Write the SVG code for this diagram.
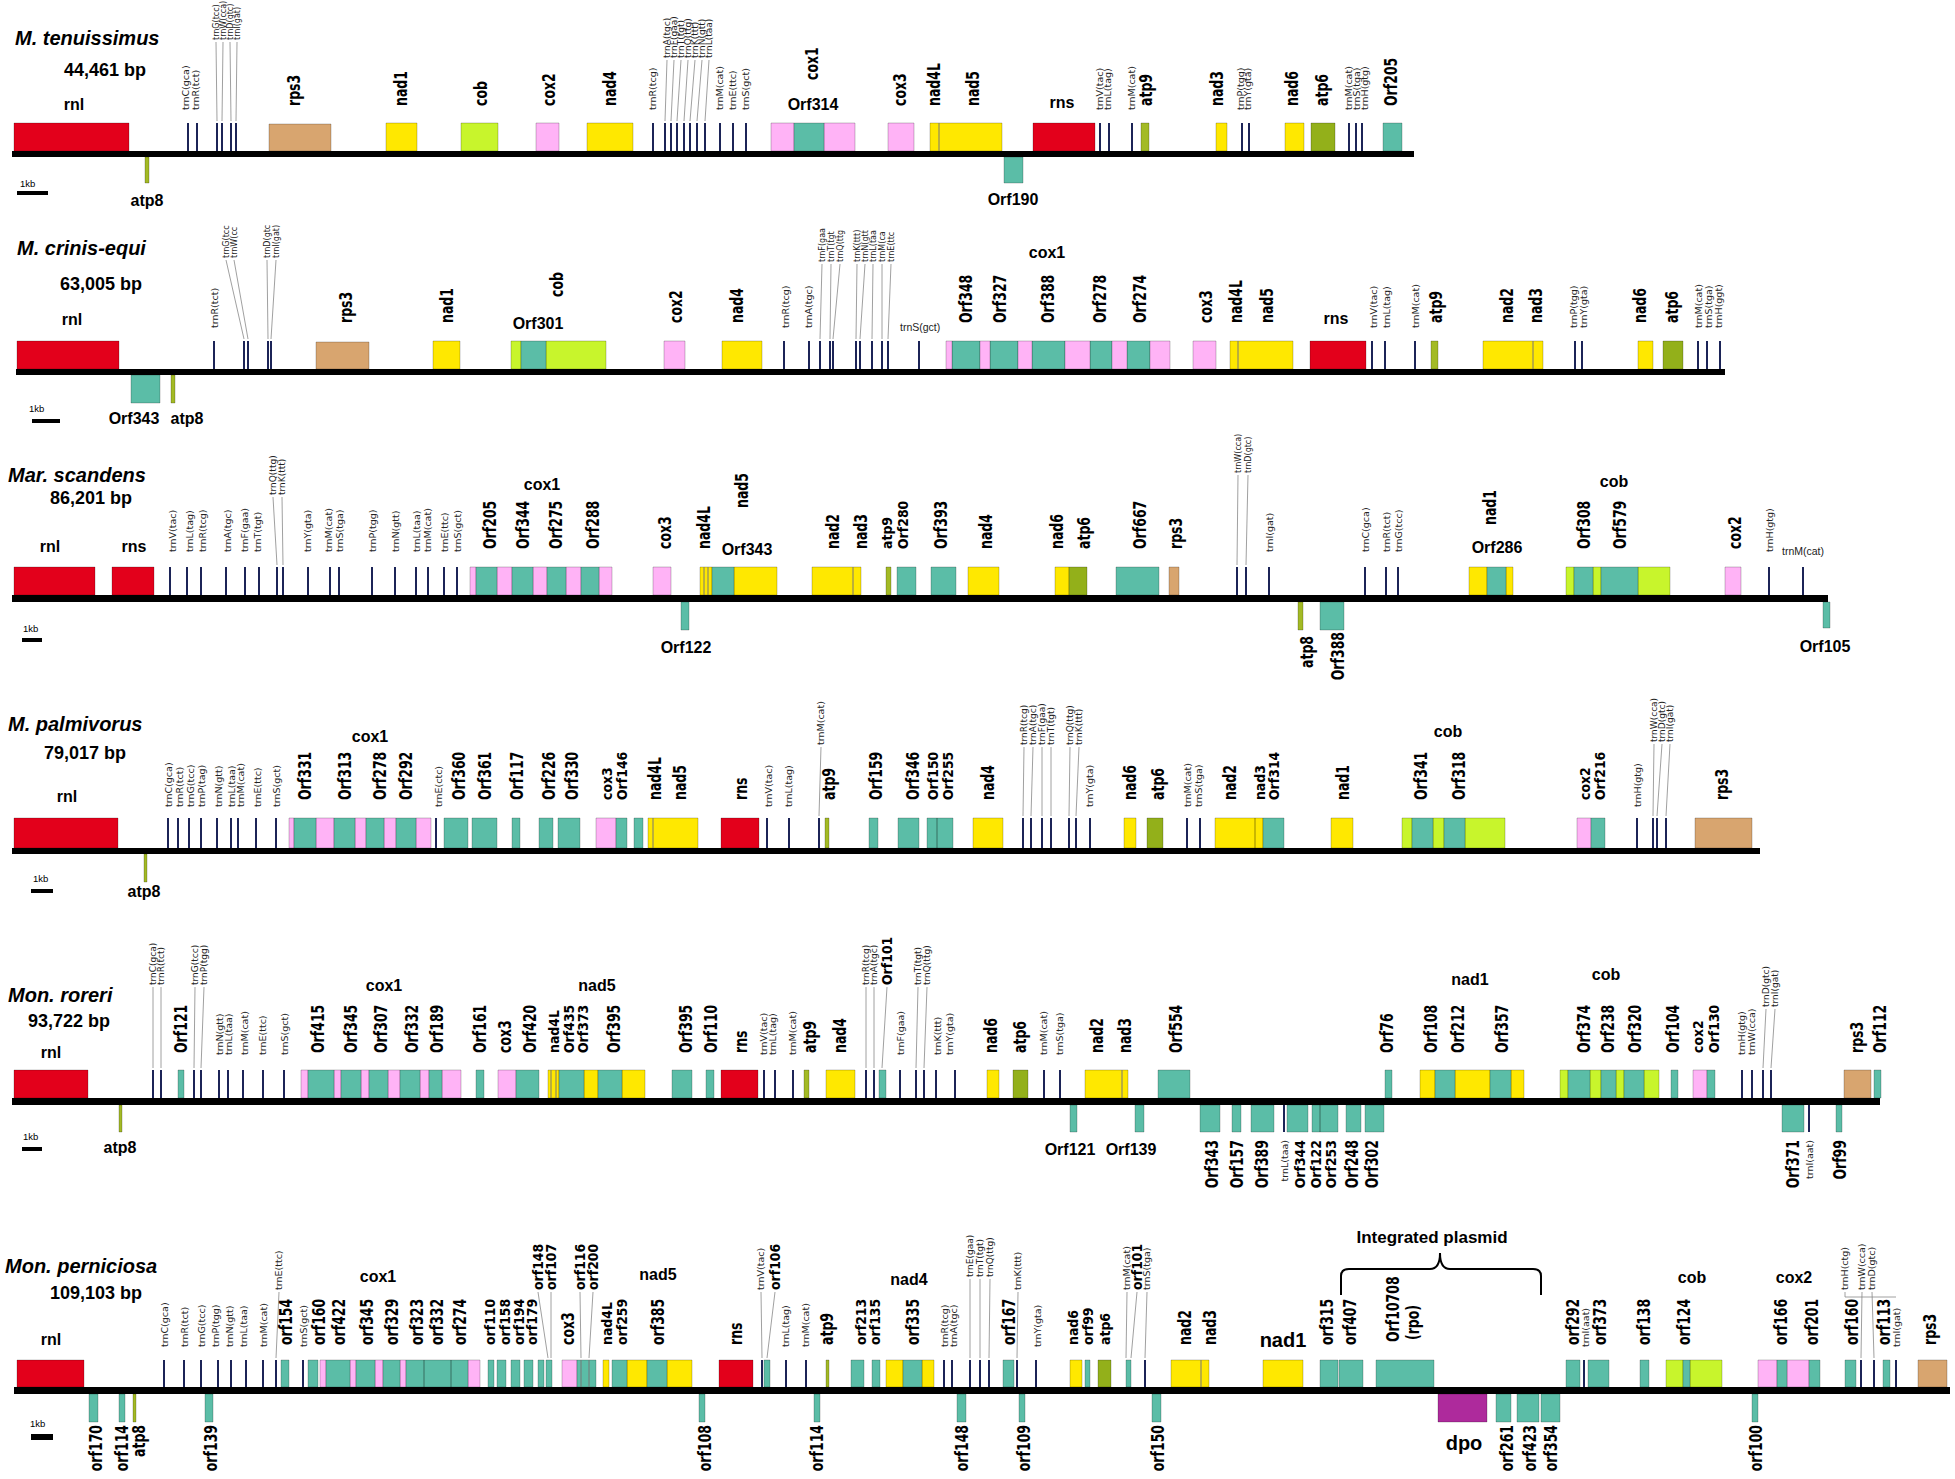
<svg xmlns="http://www.w3.org/2000/svg" width="1955" height="1479" viewBox="0 0 1955 1479">
<style>
.R{fill:#e3001b}.Y{fill:#ffe800}.L{fill:#c8f52c}.P{fill:#ffb3f6}.T{fill:#5bbda7}.N{fill:#d8a56f}.A{fill:#a3ba25}.O{fill:#93b01a}.M{fill:#ae2a9c}
.R,.Y,.L,.P,.T,.N,.A,.O,.M{stroke:#000;stroke-opacity:.28;stroke-width:.8}
.t{stroke:#1c2457;stroke-width:2;fill:none}
.f{stroke:#888;stroke-width:.8;fill:none}
.d{stroke:#777;stroke-width:1;fill:none}
.br{stroke:#000;stroke-width:2;fill:none}
.g{font:bold 12.5px "DejaVu Sans",Verdana,sans-serif;transform-box:fill-box;transform-origin:center;transform:scale(1,1.4)}
.g.c{transform:scale(1,1.1)}
.s{font:9.5px "DejaVu Sans",Verdana,sans-serif;fill:#222}
.s9{font:9px "DejaVu Sans",Verdana,sans-serif;fill:#222}
.s7{font:8px "DejaVu Sans",Verdana,sans-serif;fill:#222}
.e{text-anchor:end}
.h{font:bold 16px "Liberation Sans",Arial,sans-serif;text-anchor:middle}
.hl{font:bold 20px "Liberation Sans",Arial,sans-serif;text-anchor:middle}
.ip{font:bold 17px "Liberation Sans",Arial,sans-serif;text-anchor:middle}
.ti{font:italic bold 20px "Liberation Sans",Arial,sans-serif}
.bp{font:bold 18px "Liberation Sans",Arial,sans-serif}
.k{font:10.5px "Liberation Sans",Arial,sans-serif;fill:#222}
.kb{font:9.5px "Liberation Sans",Arial,sans-serif}
</style>
<rect width="1955" height="1479" fill="#fff"/>

<!-- Track 1 -->
<g id="m-tenuissimus" transform="translate(0,123)">
<rect x="12" y="28" width="1402" height="6"/>
<path class="R" d="M14 0h115v28h-115zM1033 0h62v28h-62z"/>
<path class="N" d="M269 1h62v27h-62z"/>
<path class="Y" d="M386 0h31v28h-31zM587 0h46v28h-46zM930 0h72v28h-72zM1216 0h11v28h-11zM1285 0h19v28h-19z"/>
<path class="L" d="M461 0h37v28h-37z"/>
<path class="P" d="M536 0h23v28h-23zM771 0h23v28h-23zM824 0h31v28h-31zM888 0h26v28h-26z"/>
<path class="T" d="M794 0h30v28h-30zM1383 0h19v28h-19zM1004 34h19v26h-19z"/>
<path class="A" d="M1141 0h8v28h-8zM145 34h4v26h-4z"/>
<path class="O" d="M1311 0h24v28h-24z"/>
<path class="d" d="M939 0V28"/>
<path class="t" d="M188 0V28M197 0V28M217 0V28M222 0V28M231 0V28M236 0V28M653 0V28M665 0V28M671 0V28M677 0V28M684 0V28M690 0V28M697 0V28M705 0V28M720 0V28M733 0V28M746 0V28M1100 0V28M1109 0V28M1132 0V28M1242 0V28M1249 0V28M1349 0V28M1356 0V28M1362 0V28"/>
<g id="t1-connectors"><path class="f" d="M216 -81L217 -2M223 -81L222 -2M230 -81L231 -2M237 -81L236 -2M667 -63L665 -2M674 -63L671 -2M681 -63L677 -2M688 -63L684 -2M695 -63L690 -2M702 -63L697 -2M709 -63L705 -2"/></g>
<text class="ti" x="15" y="-78">M. tenuissimus</text>
<text class="bp" x="64" y="-47">44,461 bp</text>
<text class="h" x="74" y="-13">rnl</text>
<text class="h" x="813" y="-13">Orf314</text>
<text class="h" x="1062" y="-15">rns</text>
<text class="h" x="147" y="83">atp8</text>
<text class="h" x="1013" y="82">Orf190</text>
<text class="kb" x="20" y="64">1kb</text>
<rect x="17" y="68" width="31" height="4"/>
<g transform="rotate(-90)">
<text class="g" x="17" y="298.5">rps3</text>
<text class="g" x="17" y="405.5">nad1</text>
<text class="g" x="17" y="485.5">cob</text>
<text class="g" x="17" y="553.5">cox2</text>
<text class="g" x="17" y="614.5">nad4</text>
<text class="g" x="43" y="816.5">cox1</text>
<text class="g" x="17" y="904.5">cox3</text>
<text class="g" x="17" y="938.5">nad4L</text>
<text class="g" x="17" y="977.5">nad5</text>
<text class="g" x="17" y="1150.5">atp9</text>
<text class="g" x="17" y="1221.5">nad3</text>
<text class="g" x="17" y="1296.5">nad6</text>
<text class="g" x="17" y="1326.5">atp6</text>
<text class="g" x="17" y="1395.5">Orf205</text>
<text class="s" x="13" y="189.4">trnC(gca)</text>
<text class="s" x="13" y="199.4">trnR(tct)</text>
<text class="s7" x="83" y="218.8">trnG(tcc)</text>
<text class="s7" x="83" y="225.8">trnW(cca)</text>
<text class="s7" x="83" y="232.8">trnD(gtc)</text>
<text class="s7" x="83" y="239.8">trnI(gat)</text>
<text class="s" x="13" y="656.4">trnR(tcg)</text>
<text class="s9" x="65" y="670.2">trnA(tgc)</text>
<text class="s9" x="65" y="677.2">trnF(gaa)</text>
<text class="s9" x="65" y="684.2">trnT(tgt)</text>
<text class="s9" x="65" y="691.2">trnQ(ttg)</text>
<text class="s9" x="65" y="698.2">trnK(ttt)</text>
<text class="s9" x="65" y="705.2">trnN(gtt)</text>
<text class="s9" x="65" y="712.2">trnL(taa)</text>
<text class="s" x="13" y="723.4">trnM(cat)</text>
<text class="s" x="13" y="736.4">trnE(ttc)</text>
<text class="s" x="13" y="749.4">trnS(gct)</text>
<text class="s" x="13" y="1103.4">trnV(tac)</text>
<text class="s" x="13" y="1111.4">trnL(tag)</text>
<text class="s" x="13" y="1135.4">trnM(cat)</text>
<text class="s" x="13" y="1244.4">trnP(tgg)</text>
<text class="s" x="13" y="1251.4">trnY(gta)</text>
<text class="s" x="13" y="1352.4">trnM(cat)</text>
<text class="s" x="13" y="1360.4">trnS(tga)</text>
<text class="s" x="13" y="1368.4">trnH(gtg)</text>
</g>
</g>

<!-- Track 2 -->
<g id="m-crinis-equi" transform="translate(0,341)">
<rect x="16" y="28" width="1709" height="6"/>
<path class="R" d="M17 0h102v28h-102zM1310 0h56v28h-56z"/>
<path class="N" d="M316 1h53v27h-53z"/>
<path class="Y" d="M433 0h27v28h-27zM722 0h40v28h-40zM1230 0h63v28h-63zM1483 0h60v28h-60zM1638 0h15v28h-15z"/>
<path class="L" d="M511 0h10v28h-10zM546 0h60v28h-60z"/>
<path class="T" d="M521 0h25v28h-25zM952 0h28v28h-28zM990 0h28v28h-28zM1032 0h33v28h-33zM1090 0h22v28h-22zM1127 0h23v28h-23zM131 34h29v28h-29z"/>
<path class="P" d="M664 0h21v28h-21zM946 0h6v28h-6zM980 0h10v28h-10zM1018 0h14v28h-14zM1065 0h25v28h-25zM1112 0h15v28h-15zM1150 0h20v28h-20zM1193 0h23v28h-23z"/>
<path class="A" d="M1431 0h7v28h-7zM171 34h4v28h-4z"/>
<path class="O" d="M1663 0h20v28h-20z"/>
<path class="d" d="M1238 0V28M1533 0V28"/>
<path class="t" d="M214 0V28M244 0V28M248 0V28M268 0V28M271 0V28M784 0V28M809 0V28M820 0V28M830 0V28M833 0V28M856 0V28M860 0V28M872 0V28M882 0V28M888 0V28M919 0V28M1372 0V28M1385 0V28M1415 0V28M1575 0V28M1582 0V28M1698 0V28M1707 0V28M1720 0V28"/>
<g id="t2-connectors"><path class="f" d="M226 -81L244 -2M234 -81L248 -2M267 -81L268 -2M276 -81L271 -2M822 -77L820 -2M831 -77L830 -2M840 -77L833 -2M857 -77L856 -2M865 -77L860 -2M873 -77L872 -2M882 -77L882 -2M891 -77L888 -2"/></g>
<text class="ti" x="17" y="-86">M. crinis-equi</text>
<text class="bp" x="60" y="-51">63,005 bp</text>
<text class="h" x="72" y="-16">rnl</text>
<text class="h" x="538" y="-12">Orf301</text>
<text class="h" x="1047" y="-83">cox1</text>
<text class="h" x="1336" y="-17">rns</text>
<text class="k" x="900" y="-10">trnS(gct)</text>
<text class="h" x="134" y="83">Orf343</text>
<text class="h" x="187" y="83">atp8</text>
<text class="kb" x="29" y="71">1kb</text>
<rect x="32" y="78" width="28" height="4"/>
<g transform="rotate(-90)">
<text class="g" x="18" y="350.5">rps3</text>
<text class="g" x="18" y="451.5">nad1</text>
<text class="g" x="44" y="561.5">cob</text>
<text class="g" x="18" y="680.5">cox2</text>
<text class="g" x="18" y="741.5">nad4</text>
<text class="g" x="18" y="970.5">Orf348</text>
<text class="g" x="18" y="1004.5">Orf327</text>
<text class="g" x="18" y="1052.5">Orf388</text>
<text class="g" x="18" y="1104.5">Orf278</text>
<text class="g" x="18" y="1144.5">Orf274</text>
<text class="g" x="18" y="1210.5">cox3</text>
<text class="g" x="18" y="1240.5">nad4L</text>
<text class="g" x="18" y="1271.5">nad5</text>
<text class="g" x="18" y="1440.5">atp9</text>
<text class="g" x="18" y="1511.5">nad2</text>
<text class="g" x="18" y="1540.5">nad3</text>
<text class="g" x="18" y="1644.5">nad6</text>
<text class="g" x="18" y="1676.5">atp6</text>
<text class="s" x="13" y="218.4">trnR(tct)</text>
<text class="s" x="13" y="789.4">trnR(tcg)</text>
<text class="s" x="13" y="812.4">trnA(tgc)</text>
<text class="s" x="13" y="1377.4">trnV(tac)</text>
<text class="s" x="13" y="1390.4">trnL(tag)</text>
<text class="s" x="13" y="1419.4">trnM(cat)</text>
<text class="s" x="13" y="1577.4">trnP(tgg)</text>
<text class="s" x="13" y="1587.4">trnY(gta)</text>
<text class="s" x="13" y="1702.4">trnM(cat)</text>
<text class="s" x="13" y="1712.4">trnS(tga)</text>
<text class="s" x="13" y="1722.4">trnH(ggt)</text>
<text class="s7" x="83" y="228.8">trnG(tcc</text>
<text class="s7" x="83" y="236.8">trnW(cc</text>
<text class="s7" x="83" y="269.8">trnD(gtc</text>
<text class="s7" x="83" y="278.8">trnI(gat)</text>
<text class="s7" x="79" y="824.8">trnF(gaa</text>
<text class="s7" x="79" y="833.8">trnT(tgt</text>
<text class="s7" x="79" y="842.8">trnQ(ttg</text>
<text class="s7" x="79" y="859.8">trnK(ttt)</text>
<text class="s7" x="79" y="867.8">trnN(gtt</text>
<text class="s7" x="79" y="875.8">trnL(taa</text>
<text class="s7" x="79" y="884.8">trnM(ca</text>
<text class="s7" x="79" y="893.8">trnE(ttc</text>
</g>
</g>

<!-- Track 3 -->
<g id="mar-scandens" transform="translate(0,567)">
<rect x="12" y="28" width="1816" height="7"/>
<path class="R" d="M14 0h81v28h-81zM112 0h42v28h-42z"/>
<path class="Y" d="M700 0h12v28h-12zM734 0h43v28h-43zM812 0h49v28h-49zM968 0h31v28h-31zM1055 0h14v28h-14zM1469 0h18v28h-18zM1506 0h7v28h-7z"/>
<path class="L" d="M1566 0h8v28h-8zM1593 0h8v28h-8zM1638 0h32v28h-32z"/>
<path class="P" d="M470 0h6v28h-6zM497 0h15v28h-15zM533 0h14v28h-14zM566 0h15v28h-15zM599 0h13v28h-13zM653 0h18v28h-18zM1725 0h16v28h-16z"/>
<path class="T" d="M476 0h21v28h-21zM512 0h21v28h-21zM547 0h19v28h-19zM581 0h18v28h-18zM712 0h22v28h-22zM897 0h19v28h-19zM931 0h25v28h-25zM1116 0h43v28h-43zM1487 0h19v28h-19zM1574 0h19v28h-19zM1601 0h37v28h-37zM681 35h8v28h-8zM1320 35h24v28h-24zM1823 35h7v26h-7z"/>
<path class="N" d="M1169 0h10v28h-10z"/>
<path class="A" d="M886 0h5v28h-5zM1298 35h5v28h-5z"/>
<path class="O" d="M1069 0h18v28h-18z"/>
<path class="d" d="M704 0V28M708 0V28M853 0V28"/>
<path class="t" d="M170 0V28M187 0V28M201 0V28M226 0V28M245 0V28M259 0V28M277 0V28M283 0V28M308 0V28M330 0V28M339 0V28M372 0V28M395 0V28M416 0V28M428 0V28M444 0V28M457 0V28M1237 0V28M1246 0V28M1269 0V28M1365 0V28M1386 0V28M1398 0V28M1769 0V28M1803 0V28"/>
<g id="t3-connectors"><path class="f" d="M273 -70L277 -2M282 -70L283 -2M1238 -92L1237 -2M1248 -92L1246 -2"/></g>
<text class="ti" x="8" y="-85">Mar. scandens</text>
<text class="bp" x="50" y="-63">86,201 bp</text>
<text class="h" x="50" y="-15">rnl</text>
<text class="h" x="134" y="-15">rns</text>
<text class="h" x="542" y="-77">cox1</text>
<text class="h" x="747" y="-12">Orf343</text>
<text class="h" x="1497" y="-14">Orf286</text>
<text class="h" x="1614" y="-80">cob</text>
<text class="k" x="1782" y="-12">trnM(cat)</text>
<text class="h" x="686" y="86">Orf122</text>
<text class="h" x="1825" y="85">Orf105</text>
<text class="kb" x="23" y="65">1kb</text>
<rect x="22" y="71" width="20" height="4"/>
<g transform="rotate(-90)">
<text class="g" x="18" y="494.5">Orf205</text>
<text class="g" x="18" y="527.5">Orf344</text>
<text class="g" x="18" y="560.5">Orf275</text>
<text class="g" x="18" y="597.5">Orf288</text>
<text class="g" x="18" y="669.5">cox3</text>
<text class="g" x="18" y="708.5">nad4L</text>
<text class="g" x="59" y="746.5">nad5</text>
<text class="g" x="18" y="837.5">nad2</text>
<text class="g" x="18" y="865.5">nad3</text>
<text class="g c" x="18" y="891.5">atp9</text>
<text class="g c" x="18" y="907.5">Orf280</text>
<text class="g" x="18" y="945.5">Orf393</text>
<text class="g" x="18" y="990.5">nad4</text>
<text class="g" x="18" y="1061.5">nad6</text>
<text class="g" x="18" y="1088.5">atp6</text>
<text class="g" x="18" y="1144.5">Orf667</text>
<text class="g" x="18" y="1180.5">rps3</text>
<text class="g" x="42" y="1494.5">nad1</text>
<text class="g" x="18" y="1588.5">Orf308</text>
<text class="g" x="18" y="1624.5">Orf579</text>
<text class="g" x="18" y="1739.5">cox2</text>
<text class="s" x="15" y="176.4">trnV(tac)</text>
<text class="s" x="15" y="193.4">trnL(tag)</text>
<text class="s" x="15" y="206.4">trnR(tcg)</text>
<text class="s" x="15" y="231.4">trnA(tgc)</text>
<text class="s" x="15" y="248.4">trnF(gaa)</text>
<text class="s" x="15" y="261.4">trnT(tgt)</text>
<text class="s" x="15" y="311.4">trnY(gta)</text>
<text class="s" x="15" y="332.4">trnM(cat)</text>
<text class="s" x="15" y="343.4">trnS(tga)</text>
<text class="s" x="15" y="376.4">trnP(tgg)</text>
<text class="s" x="15" y="399.4">trnN(gtt)</text>
<text class="s" x="15" y="420.4">trnL(taa)</text>
<text class="s" x="15" y="431.4">trnM(cat)</text>
<text class="s" x="15" y="448.4">trnE(ttc)</text>
<text class="s" x="15" y="461.4">trnS(gct)</text>
<text class="s" x="15" y="1273.4">trnI(gat)</text>
<text class="s" x="15" y="1369.4">trnC(gca)</text>
<text class="s" x="15" y="1390.4">trnR(tct)</text>
<text class="s" x="15" y="1402.4">trnG(tcc)</text>
<text class="s" x="15" y="1773.4">trnH(gtg)</text>
<text class="s9" x="72" y="276.2">trnQ(ttg)</text>
<text class="s9" x="72" y="285.2">trnK(ttt)</text>
<text class="s7" x="94" y="1240.8">trnW(cca)</text>
<text class="s7" x="94" y="1250.8">trnD(gtc)</text>
<text class="g e" x="-69" y="1311.5">atp8</text>
<text class="g e" x="-65" y="1342.5">Orf388</text>
</g>
</g>

<!-- Track 4 -->
<g id="m-palmivorus" transform="translate(0,818)">
<rect x="12" y="30" width="1748" height="6"/>
<path class="R" d="M14 0h104v30h-104zM721 0h38v30h-38z"/>
<path class="Y" d="M648 0h50v30h-50zM973 0h30v30h-30zM1124 0h12v30h-12zM1215 0h40v30h-40zM1255 0h8v30h-8zM1331 0h22v30h-22z"/>
<path class="L" d="M1402 0h10v30h-10zM1433 0h11v30h-11zM1465 0h40v30h-40z"/>
<path class="P" d="M289 0h5v30h-5zM316 0h18v30h-18zM355 0h11v30h-11zM384 0h12v30h-12zM416 0h15v30h-15zM596 0h20v30h-20zM1577 0h14v30h-14z"/>
<path class="T" d="M294 0h22v30h-22zM334 0h21v30h-21zM366 0h18v30h-18zM396 0h20v30h-20zM444 0h24v30h-24zM472 0h25v30h-25zM512 0h8v30h-8zM539 0h14v30h-14zM558 0h22v30h-22zM616 0h11v30h-11zM634 0h9v30h-9zM869 0h9v30h-9zM898 0h21v30h-21zM927 0h10v30h-10zM937 0h16v30h-16zM1263 0h21v30h-21zM1412 0h21v30h-21zM1444 0h21v30h-21zM1591 0h14v30h-14z"/>
<path class="N" d="M1695 0h57v30h-57z"/>
<path class="A" d="M825 0h4v30h-4zM144 36h3v28h-3z"/>
<path class="O" d="M1147 0h16v30h-16z"/>
<path class="d" d="M653 0V30"/>
<path class="t" d="M168 0V30M178 0V30M189 0V30M201 0V30M217 0V30M231 0V30M238 0V30M256 0V30M276 0V30M436 0V30M767 0V30M789 0V30M819 0V30M1023 0V30M1031 0V30M1042 0V30M1051 0V30M1069 0V30M1076 0V30M1090 0V30M1187 0V30M1200 0V30M1637 0V30M1653 0V30M1657 0V30M1666 0V30"/>
<g id="t4-connectors"><path class="f" d="M821 -71L819 -2M1024 -71L1023 -2M1033 -71L1031 -2M1042 -71L1042 -2M1051 -71L1051 -2M1070 -71L1069 -2M1079 -71L1076 -2M1654 -74L1653 -2M1662 -74L1657 -2M1670 -74L1666 -2"/></g>
<text class="ti" x="8" y="-87">M. palmivorus</text>
<text class="bp" x="44" y="-59">79,017 bp</text>
<text class="h" x="67" y="-16">rnl</text>
<text class="h" x="370" y="-76">cox1</text>
<text class="h" x="1448" y="-81">cob</text>
<text class="h" x="144" y="79">atp8</text>
<text class="kb" x="33" y="64">1kb</text>
<rect x="31" y="71" width="22" height="4"/>
<g transform="rotate(-90)">
<text class="g" x="18" y="309.5">Orf331</text>
<text class="g" x="18" y="349.5">Orf313</text>
<text class="g" x="18" y="384.5">Orf278</text>
<text class="g" x="18" y="410.5">Orf292</text>
<text class="g" x="18" y="463.5">Orf360</text>
<text class="g" x="18" y="489.5">Orf361</text>
<text class="g" x="18" y="521.5">Orf117</text>
<text class="g" x="18" y="553.5">Orf226</text>
<text class="g" x="18" y="576.5">Orf330</text>
<text class="g c" x="18" y="611.5">cox3</text>
<text class="g c" x="18" y="626.5">Orf146</text>
<text class="g" x="18" y="659.5">nad4L</text>
<text class="g" x="18" y="684.5">nad5</text>
<text class="g" x="18" y="745.5">rns</text>
<text class="g" x="18" y="833.5">atp9</text>
<text class="g" x="18" y="880.5">Orf159</text>
<text class="g" x="18" y="917.5">Orf346</text>
<text class="g c" x="18" y="937.5">Orf150</text>
<text class="g c" x="18" y="952.5">Orf255</text>
<text class="g" x="18" y="992.5">nad4</text>
<text class="g" x="18" y="1134.5">nad6</text>
<text class="g" x="18" y="1162.5">atp6</text>
<text class="g" x="18" y="1234.5">nad2</text>
<text class="g c" x="18" y="1264.5">nad3</text>
<text class="g c" x="18" y="1278.5">Orf314</text>
<text class="g" x="18" y="1347.5">nad1</text>
<text class="g" x="18" y="1425.5">Orf341</text>
<text class="g" x="18" y="1463.5">Orf318</text>
<text class="g c" x="18" y="1589.5">cox2</text>
<text class="g c" x="18" y="1604.5">Orf216</text>
<text class="g" x="18" y="1726.5">rps3</text>
<text class="s" x="11" y="172.4">trnC(gca)</text>
<text class="s" x="11" y="183.4">trnR(tct)</text>
<text class="s" x="11" y="194.4">trnG(tcc)</text>
<text class="s" x="11" y="205.4">trnP(tag)</text>
<text class="s" x="11" y="222.4">trnN(gtt)</text>
<text class="s" x="11" y="235.4">trnL(taa)</text>
<text class="s" x="11" y="244.4">trnM(cat)</text>
<text class="s" x="11" y="261.4">trnE(ttc)</text>
<text class="s" x="11" y="280.4">trnS(gct)</text>
<text class="s" x="11" y="442.4">trnE(ctc)</text>
<text class="s" x="11" y="772.4">trnV(tac)</text>
<text class="s" x="11" y="792.4">trnL(tag)</text>
<text class="s" x="73" y="824.4">trnM(cat)</text>
<text class="s9" x="73" y="1027.2">trnR(tcg)</text>
<text class="s9" x="73" y="1036.2">trnA(tgc)</text>
<text class="s9" x="73" y="1045.2">trnF(gaa)</text>
<text class="s9" x="73" y="1054.2">trnT(tgt)</text>
<text class="s9" x="73" y="1073.2">trnQ(ttg)</text>
<text class="s9" x="73" y="1082.2">trnK(ttt)</text>
<text class="s" x="11" y="1093.4">trnY(gta)</text>
<text class="s" x="11" y="1191.4">trnM(cat)</text>
<text class="s" x="11" y="1202.4">trnS(tga)</text>
<text class="s" x="11" y="1641.4">trnH(gtg)</text>
<text class="s9" x="76" y="1657.2">trnW(cca)</text>
<text class="s9" x="76" y="1665.2">trnD(gtc)</text>
<text class="s9" x="76" y="1673.2">trnI(gat)</text>
</g>
</g>

<!-- Track 5 -->
<g id="mon-roreri" transform="translate(0,1070)">
<rect x="12" y="28" width="1868" height="7"/>
<path class="R" d="M14 0h74v28h-74zM721 0h37v28h-37z"/>
<path class="Y" d="M548 0h11v28h-11zM584 0h14v28h-14zM622 0h23v28h-23zM826 0h29v28h-29zM987 0h12v28h-12zM1085 0h43v28h-43zM1420 0h15v28h-15zM1455 0h35v28h-35zM1511 0h13v28h-13z"/>
<path class="L" d="M1560 0h8v28h-8zM1590 0h11v28h-11zM1616 0h8v28h-8zM1644 0h15v28h-15z"/>
<path class="P" d="M301 0h7v28h-7zM334 0h7v28h-7zM361 0h8v28h-8zM388 0h12v28h-12zM420 0h9v28h-9zM442 0h19v28h-19zM498 0h18v28h-18zM1693 0h14v28h-14z"/>
<path class="T" d="M178 0h6v28h-6zM308 0h26v28h-26zM341 0h20v28h-20zM369 0h19v28h-19zM400 0h20v28h-20zM429 0h13v28h-13zM476 0h8v28h-8zM516 0h23v28h-23zM559 0h25v28h-25zM598 0h24v28h-24zM672 0h20v28h-20zM706 0h8v28h-8zM879 0h7v28h-7zM1158 0h32v28h-32zM1385 0h7v28h-7zM1435 0h20v28h-20zM1490 0h21v28h-21zM1568 0h22v28h-22zM1601 0h15v28h-15zM1624 0h20v28h-20zM1671 0h7v28h-7zM1707 0h8v28h-8zM1874 0h7v28h-7z"/>
<path class="T" d="M1070 35h7v27h-7zM1135 35h9v27h-9zM1200 35h20v27h-20zM1232 35h9v27h-9zM1251 35h23v27h-23zM1287 35h21v27h-21zM1312 35h8v27h-8zM1320 35h18v27h-18zM1346 35h15v27h-15zM1365 35h19v27h-19zM1782 35h22v27h-22zM1836 35h6v27h-6z"/>
<path class="N" d="M1844 0h27v28h-27z"/>
<path class="A" d="M804 0h5v28h-5zM119 35h3v27h-3z"/>
<path class="O" d="M1013 0h15v28h-15z"/>
<path class="d" d="M551 0V28M556 0V28M1122 0V28"/>
<path class="t" d="M153 0V28M161 0V28M194 0V28M201 0V28M219 0V28M228 0V28M243 0V28M263 0V28M284 0V28M764 0V28M775 0V28M793 0V28M866 0V28M874 0V28M900 0V28M916 0V28M924 0V28M936 0V28M955 0V28M1044 0V28M1060 0V28M1742 0V28M1752 0V28M1763 0V28M1771 0V28M1284 35V62M1809 35V62"/>
<g id="t5-connectors"><path class="f" d="M153 -83L153 -2M161 -83L161 -2M195 -83L194 -2M204 -83L201 -2M866 -83L866 -2M874 -83L874 -2M887 -83L882 -2M918 -83L916 -2M927 -83L924 -2M1766 -61L1763 -2M1775 -61L1771 -2"/></g>
<text class="ti" x="8" y="-68">Mon. roreri</text>
<text class="bp" x="28" y="-43">93,722 bp</text>
<text class="h" x="51" y="-12">rnl</text>
<text class="h" x="384" y="-79">cox1</text>
<text class="h" x="597" y="-79">nad5</text>
<text class="h" x="1470" y="-85">nad1</text>
<text class="h" x="1606" y="-90">cob</text>
<text class="h" x="120" y="83">atp8</text>
<text class="h" x="1070" y="85">Orf121</text>
<text class="h" x="1131" y="85">Orf139</text>
<text class="kb" x="23" y="70">1kb</text>
<rect x="22" y="77" width="20" height="4"/>
<g transform="rotate(-90)">
<text class="g" x="17" y="185.5">Orf121</text>
<text class="g" x="17" y="322.5">Orf415</text>
<text class="g" x="17" y="355.5">Orf345</text>
<text class="g" x="17" y="385.5">Orf307</text>
<text class="g" x="17" y="416.5">Orf332</text>
<text class="g" x="17" y="441.5">Orf189</text>
<text class="g" x="17" y="484.5">Orf161</text>
<text class="g" x="17" y="509.5">cox3</text>
<text class="g" x="17" y="534.5">Orf420</text>
<text class="g c" x="17" y="558.5">nad4L</text>
<text class="g c" x="17" y="573.5">Orf435</text>
<text class="g c" x="17" y="587.5">Orf373</text>
<text class="g" x="17" y="618.5">Orf395</text>
<text class="g" x="17" y="690.5">Orf395</text>
<text class="g" x="17" y="715.5">Orf110</text>
<text class="g" x="17" y="745.5">rns</text>
<text class="g" x="17" y="814.5">atp9</text>
<text class="g" x="17" y="844.5">nad4</text>
<text class="g c" x="85" y="891.5">Orf101</text>
<text class="g" x="17" y="995.5">nad6</text>
<text class="g" x="17" y="1024.5">atp6</text>
<text class="g" x="17" y="1101.5">nad2</text>
<text class="g" x="17" y="1129.5">nad3</text>
<text class="g" x="17" y="1180.5">Orf554</text>
<text class="g" x="17" y="1391.5">Orf76</text>
<text class="g" x="17" y="1435.5">Orf108</text>
<text class="g" x="17" y="1462.5">Orf212</text>
<text class="g" x="17" y="1506.5">Orf357</text>
<text class="g" x="17" y="1588.5">Orf374</text>
<text class="g" x="17" y="1612.5">Orf238</text>
<text class="g" x="17" y="1639.5">Orf320</text>
<text class="g" x="17" y="1677.5">Orf104</text>
<text class="g c" x="17" y="1702.5">cox2</text>
<text class="g c" x="17" y="1718.5">Orf130</text>
<text class="g" x="17" y="1861.5">rps3</text>
<text class="g" x="17" y="1884.5">Orf112</text>
<text class="s9" x="85" y="156.2">trnC(gca)</text>
<text class="s9" x="85" y="164.2">trnR(tct)</text>
<text class="s9" x="85" y="198.2">trnG(tcc)</text>
<text class="s9" x="85" y="207.2">trnP(tgg)</text>
<text class="s" x="15" y="223.4">trnN(gtt)</text>
<text class="s" x="15" y="232.4">trnL(taa)</text>
<text class="s" x="15" y="248.4">trnM(cat)</text>
<text class="s" x="15" y="266.4">trnE(ttc)</text>
<text class="s" x="15" y="288.4">trnS(gct)</text>
<text class="s" x="15" y="767.4">trnV(tac)</text>
<text class="s" x="15" y="776.4">trnL(tag)</text>
<text class="s" x="15" y="796.4">trnM(cat)</text>
<text class="s9" x="85" y="869.2">trnR(tcg)</text>
<text class="s9" x="85" y="877.2">trnA(tgc)</text>
<text class="s" x="15" y="904.4">trnF(gaa)</text>
<text class="s9" x="85" y="921.2">trnT(tgt)</text>
<text class="s9" x="85" y="930.2">trnQ(ttg)</text>
<text class="s" x="15" y="941.4">trnK(ttt)</text>
<text class="s" x="15" y="953.4">trnY(gta)</text>
<text class="s" x="15" y="1047.4">trnM(cat)</text>
<text class="s" x="15" y="1063.4">trnS(tga)</text>
<text class="s" x="15" y="1745.4">trnH(gtg)</text>
<text class="s" x="15" y="1755.4">trnW(cca)</text>
<text class="s9" x="63" y="1769.2">trnD(gtc)</text>
<text class="s9" x="63" y="1778.2">trnI(gat)</text>
<text class="g e" x="-70" y="1216.5">Orf343</text>
<text class="g e" x="-70" y="1241.5">Orf157</text>
<text class="g e" x="-70" y="1266.5">Orf389</text>
<text class="s e" x="-70" y="1288.4">trnL(taa)</text>
<text class="g e c" x="-70" y="1304.5">Orf344</text>
<text class="g e c" x="-70" y="1320.5">Orf122</text>
<text class="g e c" x="-70" y="1335.5">Orf253</text>
<text class="g e" x="-70" y="1356.5">Orf248</text>
<text class="g e" x="-70" y="1376.5">Orf302</text>
<text class="g e" x="-70" y="1797.5">Orf371</text>
<text class="s e" x="-70" y="1813.4">trnI(aat)</text>
<text class="g e" x="-70" y="1844.5">Orf99</text>
</g>
</g>

<!-- Track 6 -->
<g id="mon-perniciosa" transform="translate(0,1360)">
<rect x="14" y="27" width="1936" height="7"/>
<path class="R" d="M17 0h67v27h-67zM719 0h34v27h-34z"/>
<path class="Y" d="M603 0h6v27h-6zM627 0h20v27h-20zM667 0h25v27h-25zM886 0h17v27h-17zM922 0h12v27h-12zM1070 0h12v27h-12zM1171 0h38v27h-38zM1263 0h40v27h-40z"/>
<path class="L" d="M1666 0h17v27h-17zM1690 0h32v27h-32z"/>
<path class="P" d="M320 0h6v27h-6zM350 0h6v27h-6zM375 0h8v27h-8zM400 0h6v27h-6zM468 0h12v27h-12zM562 0h15v27h-15zM1758 0h19v27h-19zM1787 0h22v27h-22z"/>
<path class="T" d="M281 0h8v27h-8zM308 0h10v27h-10zM326 0h24v27h-24zM356 0h19v27h-19zM383 0h17v27h-17zM406 0h18v27h-18zM424 0h27v27h-27zM451 0h17v27h-17zM488 0h6v27h-6zM497 0h9v27h-9zM511 0h9v27h-9zM524 0h9v27h-9zM538 0h6v27h-6zM546 0h6v27h-6zM577 0h19v27h-19zM612 0h15v27h-15zM647 0h20v27h-20zM764 0h6v27h-6zM851 0h13v27h-13zM872 0h8v27h-8zM903 0h19v27h-19zM1003 0h11v27h-11zM1085 0h5v27h-5zM1126 0h5v27h-5zM1320 0h18v27h-18zM1339 0h24v27h-24zM1376 0h58v27h-58zM1566 0h14v27h-14zM1588 0h21v27h-21zM1640 0h9v27h-9zM1683 0h7v27h-7zM1777 0h10v27h-10zM1809 0h11v27h-11zM1845 0h11v27h-11zM1883 0h7v27h-7z"/>
<path class="T" d="M89 34h9v28h-9zM119 34h6v28h-6zM205 34h8v28h-8zM699 34h6v28h-6zM814 34h6v28h-6zM957 34h9v28h-9zM1019 34h6v28h-6zM1152 34h9v28h-9zM1496 34h15v28h-15zM1517 34h22v28h-22zM1541 34h19v28h-19zM1752 34h6v28h-6z"/>
<path class="M" d="M1438 34h49v28h-49z"/>
<path class="N" d="M1918 0h29v27h-29z"/>
<path class="A" d="M826 0h3v27h-3zM133 34h3v28h-3z"/>
<path class="O" d="M1098 0h13v27h-13z"/>
<path class="d" d="M1201 0V27M581 0V27M589 0V27"/>
<path class="t" d="M164 0V27M184 0V27M201 0V27M218 0V27M231 0V27M246 0V27M263 0V27M276 0V27M303 0V27M762 0V27M786 0V27M806 0V27M944 0V27M952 0V27M970 0V27M980 0V27M989 0V27M1017 0V27M1036 0V27M1145 0V27M1584 0V27M1861 0V27M1874 0V27M1896 0V27"/>
<g id="t6-connectors"><path class="f" d="M279 -68L276 -2M538 -68L548 -2M551 -68L551 -2M580 -68L581 -2M593 -68L589 -2M761 -68L762 -2M775 -68L767 -2M970 -81L970 -2M980 -81L980 -2M990 -81L989 -2M1018 -68L1017 -2M1127 -68L1126 -2M1137 -68L1131 -2M1147 -68L1145 -2M1862 -68L1861 -2M1872 -68L1874 -2M1845 -68V-63M1845 -63H1874M1874 -63H1896"/></g>
<path class="br" d="M1341 -65V-84Q1341 -91 1349 -91H1430Q1440 -91 1440 -107Q1440 -91 1450 -91H1533Q1541 -91 1541 -84V-65"/>
<text class="ip" x="1432" y="-117">Integrated plasmid</text>
<text class="ti" x="5" y="-87">Mon. perniciosa</text>
<text class="bp" x="50" y="-61">109,103 bp</text>
<text class="h" x="51" y="-15">rnl</text>
<text class="h" x="378" y="-78">cox1</text>
<text class="h" x="658" y="-80">nad5</text>
<text class="h" x="909" y="-75">nad4</text>
<text class="hl" x="1283" y="-13">nad1</text>
<text class="h" x="1692" y="-77">cob</text>
<text class="h" x="1794" y="-77">cox2</text>
<text class="hl" x="1464" y="90">dpo</text>
<text class="kb" x="30" y="67">1kb</text>
<rect x="31" y="74" width="22" height="6"/>
<g transform="rotate(-90)">
<text class="g" x="15" y="290.5">orf154</text>
<text class="g" x="15" y="323.5">orf160</text>
<text class="g" x="15" y="343.5">orf422</text>
<text class="g" x="15" y="371.5">orf345</text>
<text class="g" x="15" y="396.5">orf329</text>
<text class="g" x="15" y="421.5">orf323</text>
<text class="g" x="15" y="441.5">orf332</text>
<text class="g" x="15" y="464.5">orf274</text>
<text class="g c" x="15" y="494.5">orf110</text>
<text class="g c" x="15" y="509.5">orf158</text>
<text class="g c" x="15" y="523.5">orf194</text>
<text class="g c" x="15" y="536.5">orf179</text>
<text class="g c" x="70" y="542.5">orf148</text>
<text class="g c" x="70" y="555.5">orf107</text>
<text class="g" x="15" y="572.5">cox3</text>
<text class="g c" x="70" y="584.5">orf116</text>
<text class="g c" x="70" y="597.5">orf200</text>
<text class="g c" x="15" y="611.5">nad4L</text>
<text class="g c" x="15" y="626.5">orf259</text>
<text class="g" x="15" y="662.5">orf385</text>
<text class="g" x="15" y="740.5">rns</text>
<text class="g c" x="70" y="779.5">orf106</text>
<text class="g" x="15" y="831.5">atp9</text>
<text class="g c" x="15" y="865.5">orf213</text>
<text class="g c" x="15" y="879.5">orf135</text>
<text class="g" x="15" y="917.5">orf335</text>
<text class="g" x="15" y="1013.5">orf167</text>
<text class="g c" x="15" y="1077.5">nad6</text>
<text class="g c" x="15" y="1092.5">orf99</text>
<text class="g c" x="15" y="1109.5">atp6</text>
<text class="g c" x="70" y="1141.5">orf101</text>
<text class="g" x="15" y="1189.5">nad2</text>
<text class="g" x="15" y="1214.5">nad3</text>
<text class="g" x="15" y="1331.5">orf315</text>
<text class="g" x="15" y="1354.5">orf407</text>
<text class="g" x="18" y="1397.5">Orf10708</text>
<text class="g" x="20" y="1417.5">(rpo)</text>
<text class="g" x="15" y="1577.5">orf292</text>
<text class="g" x="15" y="1604.5">orf373</text>
<text class="g" x="15" y="1648.5">orf138</text>
<text class="g" x="15" y="1688.5">orf124</text>
<text class="g" x="15" y="1785.5">orf166</text>
<text class="g" x="15" y="1816.5">orf201</text>
<text class="g" x="15" y="1856.5">orf160</text>
<text class="g" x="15" y="1888.5">orf113</text>
<text class="g" x="15" y="1934.5">rps3</text>
<text class="s" x="13" y="168.4">trnC(gca)</text>
<text class="s" x="13" y="188.4">trnR(tct)</text>
<text class="s" x="13" y="205.4">trnG(tcc)</text>
<text class="s" x="13" y="219.4">trnP(tgg)</text>
<text class="s" x="13" y="233.4">trnN(gtt)</text>
<text class="s" x="13" y="247.4">trnL(taa)</text>
<text class="s" x="13" y="267.4">trnM(cat)</text>
<text class="s" x="70" y="282.4">trnE(ttc)</text>
<text class="s" x="13" y="307.4">trnS(gct)</text>
<text class="s" x="70" y="764.4">trnV(tac)</text>
<text class="s" x="13" y="789.4">trnL(tag)</text>
<text class="s" x="13" y="809.4">trnM(cat)</text>
<text class="s" x="13" y="948.4">trnR(tcg)</text>
<text class="s" x="13" y="957.4">trnA(tgc)</text>
<text class="s9" x="83" y="973.2">trnE(gaa)</text>
<text class="s9" x="83" y="983.2">trnT(tgt)</text>
<text class="s9" x="83" y="993.2">trnQ(ttg)</text>
<text class="s" x="70" y="1021.4">trnK(ttt)</text>
<text class="s" x="13" y="1041.4">trnY(gta)</text>
<text class="s" x="70" y="1130.4">trnM(cat)</text>
<text class="s" x="70" y="1150.4">trnS(tga)</text>
<text class="s" x="13" y="1589.4">trnI(aat)</text>
<text class="s" x="70" y="1848.4">trnH(ctg)</text>
<text class="s" x="70" y="1865.4">trnW(cca)</text>
<text class="s" x="70" y="1875.4">trnD(gtc)</text>
<text class="s" x="13" y="1900.4">trnI(gat)</text>
<text class="g e" x="-65" y="100.5">orf170</text>
<text class="g e" x="-65" y="126.5">orf114</text>
<text class="g e" x="-65" y="143.5">atp8</text>
<text class="g e" x="-65" y="215.5">orf139</text>
<text class="g e" x="-65" y="709.5">orf108</text>
<text class="g e" x="-65" y="821.5">orf114</text>
<text class="g e" x="-65" y="966.5">orf148</text>
<text class="g e" x="-65" y="1028.5">orf109</text>
<text class="g e" x="-65" y="1162.5">orf150</text>
<text class="g e" x="-65" y="1511.5">orf261</text>
<text class="g e" x="-65" y="1534.5">orf423</text>
<text class="g e" x="-65" y="1555.5">orf354</text>
<text class="g e" x="-65" y="1760.5">orf100</text>
</g>
</g>
</svg>
